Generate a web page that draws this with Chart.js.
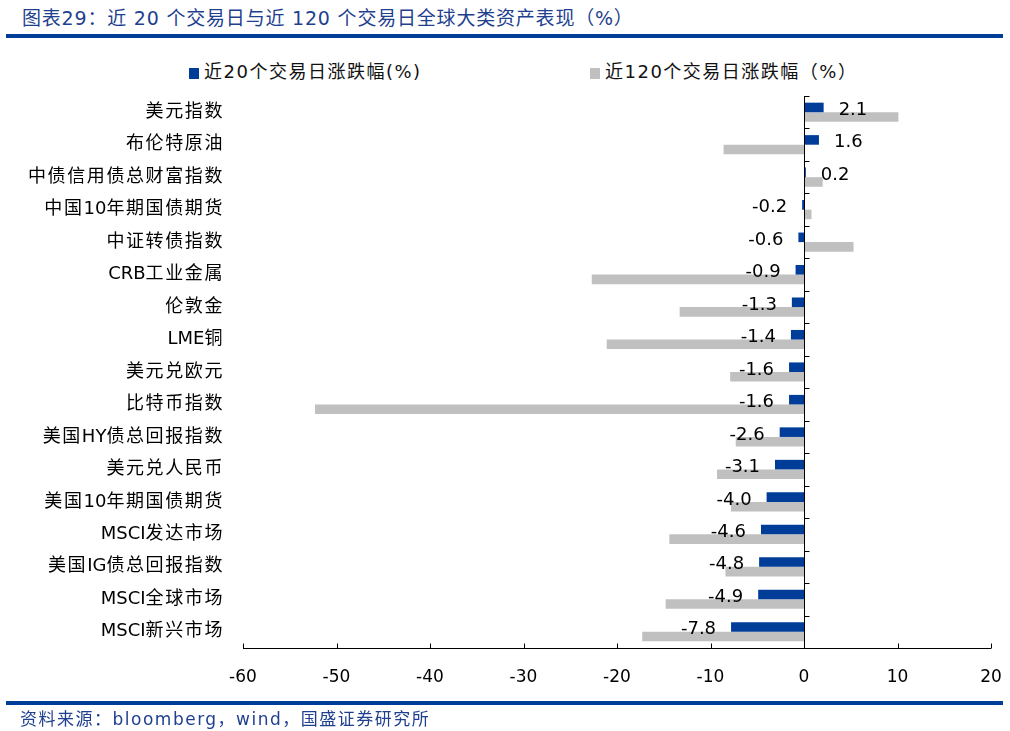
<!DOCTYPE html>
<html lang="zh">
<head>
<meta charset="UTF-8">
<title>近20个交易日与近120个交易日全球大类资产表现</title>
<script src="https://cdn.jsdelivr.net/npm/chart.js"></script>
<style>
    body {
        margin: 0;
        width: 1010px;
        height: 731px;
        position: relative;
        background: #fff;
        font-family: "DejaVu Sans", "Noto Sans CJK SC", sans-serif;
        overflow: hidden;
    }
    .title {
        position: absolute;
        left: 22px;
        top: 3px;
        font-size: 19px;
        letter-spacing: 0.8px;
        color: #1f3f8f;
        white-space: nowrap;
    }
    .rule {
        position: absolute;
        left: 6px;
        width: 997px;
        height: 4px;
        background: #003d96;
    }
    .legend {
        position: absolute;
        top: 57px;
        font-size: 18px;
        letter-spacing: 1.5px;
        color: #111;
        white-space: nowrap;
    }
    .legend i {
        display: inline-block;
        width: 10px;
        height: 11px;
        margin-right: 5px;
        vertical-align: -1px;
    }
    .source {
        position: absolute;
        left: 20px;
        top: 705px;
        font-size: 17px;
        letter-spacing: 1.5px;
        color: #1f3f8f;
        white-space: nowrap;
    }
    #wrap {
        position: absolute;
        left: 0;
        top: 0;
        width: 1010px;
        height: 731px;
    }
</style>
</head>
<body>
<div class="title">图表29：近 20 个交易日与近 120 个交易日全球大类资产表现（%）</div>
<div class="rule" style="top:34px"></div>
<div class="legend" style="left:189px"><i style="background:#003d99"></i>近20个交易日涨跌幅(%)</div>
<div class="legend" style="left:590px"><i style="background:#c0c0c0"></i>近120个交易日涨跌幅（%）</div>
<div id="wrap"><canvas id="assetChart"></canvas></div>
<div class="rule" style="top:701px"></div>
<div class="source">资料来源：bloomberg，wind，国盛证券研究所</div>

<script>
    const assets = ['美元指数', '布伦特原油', '中债信用债总财富指数', '中国10年期国债期货', '中证转债指数',
        'CRB工业金属', '伦敦金', 'LME铜', '美元兑欧元', '比特币指数', '美国HY债总回报指数',
        '美元兑人民币', '美国10年期国债期货', 'MSCI发达市场', '美国IG债总回报指数', 'MSCI全球市场', 'MSCI新兴市场'];
    const chg20 = [2.1, 1.6, 0.2, -0.2, -0.6, -0.9, -1.3, -1.4, -1.6, -1.6, -2.6, -3.1, -4.0, -4.6, -4.8, -4.9, -7.8];
    const chg120 = [10.1, -8.6, 2.0, 0.8, 5.3, -22.7, -13.3, -21.1, -7.9, -52.3, -7.3, -9.3, -7.8, -14.4, -8.4, -14.8, -17.3];
    const xTicks = [-60, -50, -40, -30, -20, -10, 0, 10, 20];

    // right-aligned label where only the CJK characters get extra spacing
    function drawSpacedLabel(ctx, text, right, cy) {
        const runs = text.match(/[\x00-\x7f]+|[^\x00-\x7f]/g);
        const gap = 1.6;
        const widths = runs.map(r => ctx.measureText(r).width + (/[^\x00-\x7f]/.test(r) ? gap : 0));
        let xx = right - widths.reduce((a, b) => a + b, 0);
        ctx.textAlign = 'left';
        runs.forEach((r, k) => {
            ctx.fillText(r, xx, cy);
            xx += widths[k];
        });
    }

    // zero line, inside ticks, category names and value labels for the 20-day series
    const extras = {
        id: 'extras',
        afterDatasetsDraw(chart) {
            const ctx = chart.ctx;
            const x = chart.scales.x;
            const y = chart.scales.y;
            const area = chart.chartArea;
            const x0 = Math.round(x.getPixelForValue(0)) + 0.5;
            ctx.save();
            ctx.strokeStyle = '#000';
            ctx.lineWidth = 1;
            ctx.beginPath();
            ctx.moveTo(x0, area.top);
            ctx.lineTo(x0, area.bottom);
            const step = (area.bottom - area.top) / assets.length;
            for (let i = 0; i < assets.length; i++) {
                const ty = Math.round(area.top + i * step) + 0.5;
                ctx.moveTo(x0, ty);
                ctx.lineTo(x0 + 5, ty);
            }
            const yb = Math.round(area.bottom) + 0.5;
            ctx.moveTo(area.left, yb);
            ctx.lineTo(area.right, yb);
            xTicks.forEach(v => {
                const tx = Math.round(x.getPixelForValue(v)) + 0.5;
                ctx.moveTo(tx, yb);
                ctx.lineTo(tx, yb - 5);
            });
            ctx.stroke();

            ctx.fillStyle = '#000';
            ctx.textBaseline = 'middle';

            ctx.font = '18px "DejaVu Sans", "Noto Sans CJK SC"';
            assets.forEach((name, i) => {
                drawSpacedLabel(ctx, name, area.left - 19, y.getPixelForValue(i));
            });

            ctx.font = '18px "DejaVu Sans"';
            chart.getDatasetMeta(0).data.forEach((bar, i) => {
                const v = chg20[i];
                const cy = y.getPixelForValue(i) - 2;
                if (v >= 0) {
                    ctx.textAlign = 'left';
                    ctx.fillText(v.toFixed(1), bar.x + 15, cy);
                } else {
                    ctx.textAlign = 'right';
                    ctx.fillText(v.toFixed(1), bar.x - 15, cy);
                }
            });
            ctx.restore();
        }
    };

    new Chart(document.getElementById('assetChart'), {
        type: 'bar',
        data: {
            labels: assets,
            datasets: [
                {
                    label: '近20个交易日涨跌幅(%)',
                    data: chg20,
                    backgroundColor: '#003d99',
                    categoryPercentage: 0.59,
                    barPercentage: 1.0
                },
                {
                    label: '近120个交易日涨跌幅（%）',
                    data: chg120,
                    backgroundColor: '#c0c0c0',
                    categoryPercentage: 0.59,
                    barPercentage: 1.0
                }
            ]
        },
        options: {
            indexAxis: 'y',
            responsive: true,
            maintainAspectRatio: false,
            animation: false,
            layout: {
                padding: { left: 0, top: 96, right: 19, bottom: 43 }
            },
            plugins: {
                legend: { display: false },
                tooltip: { enabled: false }
            },
            scales: {
                x: {
                    min: -60,
                    max: 20,
                    afterBuildTicks(scale) {
                        scale.ticks = xTicks.map(v => ({ value: v }));
                    },
                    afterFit(scale) {
                        scale.height = 40;
                        scale.paddingLeft = 0;
                        scale.paddingRight = 0;
                    },
                    grid: { display: false },
                    border: { display: false },
                    ticks: {
                        color: '#000',
                        padding: 11,
                        maxRotation: 0,
                        font: { family: '"DejaVu Sans"', size: 17 }
                    }
                },
                y: {
                    afterFit(scale) {
                        scale.width = 243;
                    },
                    grid: { display: false },
                    border: { display: false },
                    ticks: { display: false }
                }
            }
        },
        plugins: [extras]
    });
</script>
</body>
</html>
